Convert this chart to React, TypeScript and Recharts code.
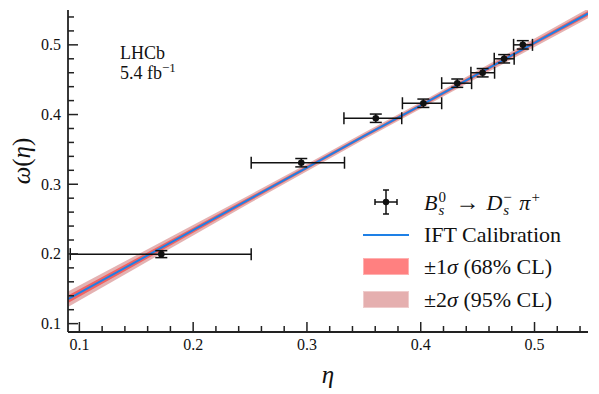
import React from "react";
import { ComposedChart, Area, Line, Scatter, ErrorBar, XAxis, YAxis, Legend } from "recharts";

// B_s0 -> Ds- pi+ calibration points
const etaMean = [0.172, 0.295, 0.3605, 0.4023, 0.4321, 0.4544, 0.4733, 0.4897];
const etaErrLow = [0.08, 0.044, 0.028, 0.0184, 0.0137, 0.0103, 0.0087, 0.0081];
const etaErrHigh = [0.079, 0.038, 0.0228, 0.0161, 0.0126, 0.0105, 0.0088, 0.0085];
const omegaObs = [0.1997, 0.3309, 0.3947, 0.4162, 0.445, 0.46, 0.48, 0.5];
const omegaErr = [0.005, 0.006, 0.006, 0.006, 0.006, 0.006, 0.006, 0.006];

// IFT calibration curve and its uncertainty bands
const bandEta = [0.09, 0.15, 0.2, 0.25, 0.3, 0.35, 0.4, 0.45, 0.5, 0.547];
const calibOmega = [0.135, 0.189, 0.234, 0.279, 0.324, 0.369, 0.413, 0.458, 0.503, 0.545];
const sigma1 = [0.0055, 0.0045, 0.0037, 0.003, 0.0026, 0.0024, 0.0024, 0.0026, 0.003, 0.0035];
const sigma2 = [0.011, 0.009, 0.0074, 0.006, 0.0052, 0.0048, 0.0048, 0.0052, 0.006, 0.007];

const axisTicks = [0.1, 0.12, 0.14, 0.16, 0.18, 0.2, 0.22, 0.24, 0.26, 0.28, 0.3, 0.32, 0.34, 0.36, 0.38, 0.4, 0.42, 0.44, 0.46, 0.48, 0.5, 0.52, 0.54];

const bandData = bandEta.map((eta, i) => ({
  eta,
  calib: calibOmega[i],
  s1: [calibOmega[i] - sigma1[i], calibOmega[i] + sigma1[i]],
  s2: [calibOmega[i] - sigma2[i], calibOmega[i] + sigma2[i]],
}));

const pointData = etaMean.map((eta, i) => ({
  eta,
  omega: omegaObs[i],
  xErr: [etaErrLow[i], etaErrHigh[i]],
  yErr: omegaErr[i],
}));

const FONT = "'Liberation Serif', 'DejaVu Serif', serif";
const INK = "#222";
const BLUE = "#1e80e6";

const isMajor = (v: number) => Math.abs(v * 10 - Math.round(v * 10)) < 1e-6;

const BottomTick = ({ x, y, payload }: any) => {
  const major = isMajor(payload.value);
  return (
    <g>
      <line x1={x} x2={x} y1={y} y2={y - (major ? 10 : 6)} stroke={INK} strokeWidth={1.5} />
      {major && (
        <text x={x} y={y + 18} textAnchor="middle" fontSize={16} fontFamily={FONT} fill="#111">
          {payload.value.toFixed(1)}
        </text>
      )}
    </g>
  );
};

const TopTick = ({ x, y, payload }: any) => {
  const major = isMajor(payload.value);
  return <line x1={x} x2={x} y1={y} y2={y + (major ? 10 : 6)} stroke={INK} strokeWidth={1.5} />;
};

const LeftTick = ({ x, y, payload }: any) => {
  const major = isMajor(payload.value);
  return (
    <g>
      <line x1={x} x2={x + (major ? 10 : 6)} y1={y} y2={y} stroke={INK} strokeWidth={1.5} />
      {major && (
        <text x={x - 7} y={y + 5.5} textAnchor="end" fontSize={16} fontFamily={FONT} fill="#111">
          {payload.value.toFixed(1)}
        </text>
      )}
    </g>
  );
};

const RightTick = ({ x, y, payload }: any) => {
  const major = isMajor(payload.value);
  return <line x1={x} x2={x - (major ? 10 : 6)} y1={y} y2={y} stroke={INK} strokeWidth={1.5} />;
};

// superscript stacked over subscript, as in B_s^0
const Stack = ({ sup, sub, w }: { sup: React.ReactNode; sub: React.ReactNode; w: number }) => (
  <span style={{ position: "relative", display: "inline-block", width: w, height: 0 }}>
    <span style={{ position: "absolute", left: 1, bottom: 5, fontSize: 15, lineHeight: "15px" }}>{sup}</span>
    <span style={{ position: "absolute", left: 1, top: -7, fontSize: 15, lineHeight: "15px" }}>{sub}</span>
  </span>
);

const legendRow: React.CSSProperties = { display: "flex", alignItems: "center", height: 32.5 };
const iconBox: React.CSSProperties = { width: 46, height: 20, marginRight: 15, position: "relative", flex: "none" };

const LegendBox = () => (
  <div style={{ fontFamily: FONT, fontSize: 22, color: "#111", lineHeight: 1 }}>
    <div style={legendRow}>
      <div style={iconBox}>
        <svg width={46} height={28} style={{ position: "absolute", top: -4, left: 0 }}>
          <line x1={12} x2={34} y1={14} y2={14} stroke="#111" strokeWidth={1.5} />
          <line x1={12} x2={12} y1={11} y2={17} stroke="#111" strokeWidth={1.5} />
          <line x1={34} x2={34} y1={11} y2={17} stroke="#111" strokeWidth={1.5} />
          <line x1={23} x2={23} y1={2} y2={26} stroke="#111" strokeWidth={1.5} />
          <line x1={20} x2={26} y1={2} y2={2} stroke="#111" strokeWidth={1.5} />
          <line x1={20} x2={26} y1={26} y2={26} stroke="#111" strokeWidth={1.5} />
          <circle cx={23} cy={14} r={3.2} fill="#111" />
        </svg>
      </div>
      <span style={{ whiteSpace: "nowrap" }}>
        <i>B</i>
        <Stack sup="0" sub={<i>s</i>} w={12} />
        <span style={{ margin: "0 7px 0 6px", fontSize: 24 }}>→</span>
        <i>D</i>
        <Stack sup="−" sub={<i>s</i>} w={14} />
        <i style={{ marginLeft: 3 }}>π</i>
        <Stack sup="+" sub="" w={10} />
      </span>
    </div>
    <div style={legendRow}>
      <div style={iconBox}>
        <div style={{ position: "absolute", top: 9, left: 0, width: 46, height: 2, background: BLUE }} />
      </div>
      <span>IFT Calibration</span>
    </div>
    <div style={legendRow}>
      <div style={iconBox}>
        <div style={{ position: "absolute", top: 1, left: 0, width: 44, height: 15, background: "#ff8080", border: "1px solid #ffb0b0" }} />
      </div>
      <span>±1<i>σ</i> (68% CL)</span>
    </div>
    <div style={legendRow}>
      <div style={iconBox}>
        <div style={{ position: "absolute", top: 1, left: 0, width: 44, height: 15, background: "#e5afaf", border: "1px solid #efcccc" }} />
      </div>
      <span>±2<i>σ</i> (95% CL)</span>
    </div>
  </div>
);

export default function App() {
  return (
    <div style={{ position: "absolute", left: 0, top: 0, width: 599, height: 394, background: "#fff" }}>
      <ComposedChart width={599} height={394} data={bandData} margin={{ top: 10, right: 11, bottom: 0, left: 0 }}>
        <XAxis
          dataKey="eta"
          type="number"
          domain={[0.09, 0.547]}
          allowDataOverflow
          ticks={axisTicks}
          interval={0}
          height={62}
          tickSize={0}
          tickMargin={0}
          tickLine={false}
          tick={<BottomTick />}
          axisLine={{ stroke: INK, strokeWidth: 1.8 }}
          label={{ value: "η", position: "bottom", offset: -29, fontSize: 25, fontStyle: "italic", fontFamily: FONT, fill: "#111" }}
        />
        <XAxis
          xAxisId="top"
          orientation="top"
          dataKey="eta"
          type="number"
          domain={[0.09, 0.547]}
          allowDataOverflow
          ticks={axisTicks}
          interval={0}
          height={0}
          tickSize={0}
          tickMargin={0}
          tickLine={false}
          tick={<TopTick />}
          axisLine={{ stroke: INK, strokeWidth: 1.8 }}
        />
        <YAxis
          type="number"
          domain={[0.088, 0.55]}
          allowDataOverflow
          ticks={axisTicks}
          interval={0}
          width={68}
          tickSize={0}
          tickMargin={0}
          tickLine={false}
          tick={<LeftTick />}
          axisLine={{ stroke: INK, strokeWidth: 1.8 }}
          label={({ viewBox }: any) => (
            <text
              transform={`translate(${viewBox.x + 30}, ${viewBox.y + viewBox.height / 2 - 10}) rotate(-90)`}
              textAnchor="middle"
              fontSize={25}
              fontFamily={FONT}
              fill="#111"
            >
              <tspan fontStyle="italic">ω</tspan>
              <tspan>(</tspan>
              <tspan fontStyle="italic">η</tspan>
              <tspan>)</tspan>
            </text>
          )}
        />
        <YAxis
          yAxisId="right"
          orientation="right"
          type="number"
          domain={[0.088, 0.55]}
          allowDataOverflow
          ticks={axisTicks}
          interval={0}
          width={0}
          tickSize={0}
          tickMargin={0}
          tickLine={false}
          tick={<RightTick />}
          axisLine={{ stroke: INK, strokeWidth: 1.8 }}
        />
        <Area
          dataKey="s2"
          type="linear"
          fill="#b22222"
          fillOpacity={0.35}
          stroke="none"
          isAnimationActive={false}
          activeDot={false}
          legendType="none"
        />
        <Area
          dataKey="s1"
          type="linear"
          fill="#ff0000"
          fillOpacity={0.45}
          stroke="none"
          isAnimationActive={false}
          activeDot={false}
          legendType="none"
        />
        <Line
          dataKey="calib"
          type="linear"
          stroke={BLUE}
          strokeWidth={2}
          dot={false}
          activeDot={false}
          isAnimationActive={false}
        />
        <Scatter data={pointData} dataKey="omega" fill="#111" isAnimationActive={false} shape={(p: any) => <circle cx={p.cx} cy={p.cy} r={3.3} fill="#111" />}>
          <ErrorBar dataKey="xErr" direction="x" width={6} stroke="#111" strokeWidth={1.5} isAnimationActive={false} />
          <ErrorBar dataKey="yErr" direction="y" width={6} stroke="#111" strokeWidth={1.5} isAnimationActive={false} />
        </Scatter>
        <Legend
          layout="horizontal"
          verticalAlign="middle"
          align="center"
          content={() => <LegendBox />}
          wrapperStyle={{ left: 363, top: 186, width: 230 }}
        />
      </ComposedChart>
      <div style={{ position: "absolute", left: 120, top: 43, fontFamily: FONT, fontSize: 18, lineHeight: "20px", color: "#111" }}>
        <div>LHCb</div>
        <div>
          5.4 fb<sup style={{ fontSize: "0.72em", verticalAlign: "0.55em", lineHeight: 0 }}>−1</sup>
        </div>
      </div>
    </div>
  );
}
